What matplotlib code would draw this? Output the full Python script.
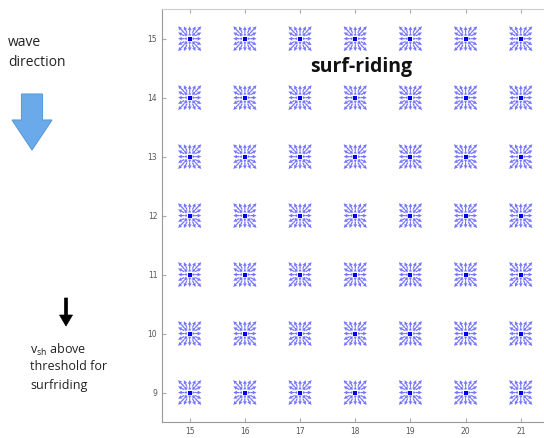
import numpy as np
import matplotlib
matplotlib.use("Agg")
import matplotlib.pyplot as plt
from matplotlib.patches import FancyArrow

# grid of surf-riding points
x_centers = [15, 16, 17, 18, 19, 20, 21]
y_centers = [9, 10, 11, 12, 13, 14, 15]
x_ticks = [15, 16, 17, 18, 19, 20, 21]
y_ticks = [9, 10, 11, 12, 13, 14, 15]
sub_offsets = [-0.1, -0.05, 0.0, 0.05, 0.1]
arrow_gain = 1.1

fig = plt.figure(figsize=(5.44, 4.38), dpi=100)
ax = fig.add_axes([0.298, 0.0365, 0.71, 0.9425])

X, Y, U, V = [], [], [], []
for cx in x_centers:
    for cy in y_centers:
        for dx in sub_offsets:
            for dy in sub_offsets:
                X.append(cx + dx)
                Y.append(cy + dy)
                U.append(dx * arrow_gain)
                V.append(dy * arrow_gain)
ax.quiver(X, Y, U, V, angles='xy', scale_units='xy', scale=1, color='#2a2aff',
          width=0.0032, headwidth=3.2, headlength=3.2, headaxislength=2.8, alpha=0.65)
ax.scatter(x_centers * len(y_centers), np.repeat(y_centers, len(x_centers)), s=9, marker='s',
           color='#0000ee', zorder=3, linewidths=0)

ax.set_xlim(14.5, 21.5)
ax.set_ylim(8.5, 15.5)
ax.set_xticks(x_ticks)
ax.set_yticks(y_ticks)
ax.tick_params(direction='in', length=3, labelsize=5.5, colors='#aaaaaa', labelcolor='#555555',
               top=True, right=True)
for s in ['left', 'bottom']:
    ax.spines[s].set_color('#999999')
for s in ['top', 'right']:
    ax.spines[s].set_color('#cccccc')

ax.text(18.1, 14.52, 'surf-riding', fontsize=14, fontweight='bold', ha='center', va='center',
        family='Open Sans', color='#111111')

fig.text(8 / 544, 1 - 42 / 438, 'wave', fontsize=10, family='Open Sans', color='#222222', va='center')
fig.text(8 / 544, 1 - 62 / 438, 'direction', fontsize=10, family='Open Sans', color='#222222', va='center')

# big blue arrow
fig.patches.append(FancyArrow(32 / 544, 1 - 94 / 438, 0, -(150 - 94) / 438, width=21 / 544,
                              head_width=40 / 544, head_length=30 / 438, length_includes_head=True,
                              transform=fig.transFigure, facecolor='#6aa9ea', edgecolor='#5d9ad8', lw=0.8))
# black arrow
fig.patches.append(FancyArrow(66 / 544, 1 - 298 / 438, 0, -(326 - 298) / 438, width=3 / 544,
                              head_width=13 / 544, head_length=11 / 438, length_includes_head=True,
                              transform=fig.transFigure, facecolor='black', edgecolor='black', lw=0.5))

fig.text(30 / 544, 1 - 350 / 438, r'v$_{\mathregular{sh}}$ above', fontsize=9, family='Open Sans', color='#222222', va='center')
fig.text(30 / 544, 1 - 367 / 438, 'threshold for', fontsize=9, family='Open Sans', color='#222222', va='center')
fig.text(30 / 544, 1 - 385 / 438, 'surfriding', fontsize=9, family='Open Sans', color='#222222', va='center')

fig.savefig('out.png', dpi=100)
